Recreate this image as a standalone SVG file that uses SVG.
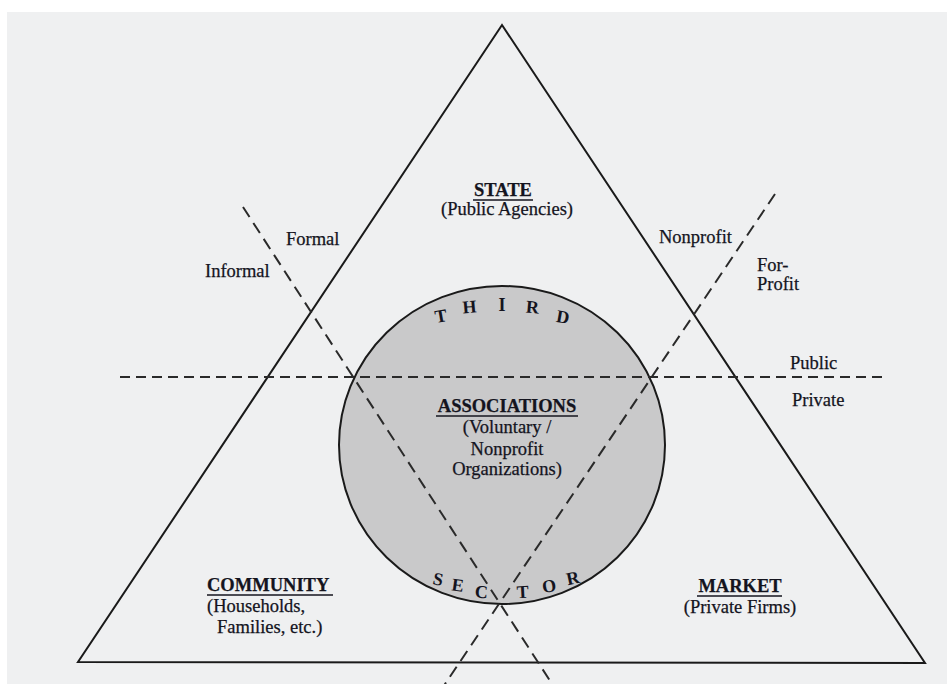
<svg xmlns="http://www.w3.org/2000/svg" width="947" height="684" viewBox="0 0 947 684">
<defs>
<style>
.t{font-family:"Liberation Serif","Times New Roman",serif;font-size:18.5px;fill:#14141e;stroke:#14141e;stroke-width:0.25}
.b{font-weight:bold}
.m{text-anchor:middle}
.l{font-family:"Liberation Serif","Times New Roman",serif;font-size:18px;font-weight:bold;fill:#14141e;text-anchor:middle}
.ul{stroke:#14141e;stroke-width:1.6}
.solid{fill:none;stroke:#1a1a1a;stroke-width:2;stroke-linejoin:miter}
.dash{fill:none;stroke:#2a2a2a;stroke-width:2}
.h{stroke-dasharray:10 6}
.d{stroke-dasharray:12 7}
</style>
</defs>
<rect x="0" y="0" width="947" height="684" fill="#ffffff"/>
<rect x="7" y="12" width="940" height="672" fill="#eff0f1"/>
<!-- triangle -->
<polygon class="solid" points="502,25 925,663 78,662"/>
<!-- third sector circle -->
<g id="associations">
<ellipse cx="502" cy="445" rx="163" ry="159" fill="#c9c9ca" stroke="#1a1a1a" stroke-width="2"/>
<text class="t b m" x="507" y="412">ASSOCIATIONS</text>
<line class="ul" x1="436" y1="416" x2="578" y2="416"/>
<text class="t m" x="507" y="433">(Voluntary /</text>
<text class="t m" x="507" y="455">Nonprofit</text>
<text class="t m" x="507" y="475">Organizations)</text>
</g>
<g id="third-sector-label">
<text class="l" transform="translate(442,322) rotate(-10)">T</text>
<text class="l" transform="translate(470,313) rotate(-5)">H</text>
<text class="l" transform="translate(502,311)">I</text>
<text class="l" transform="translate(532,313) rotate(5)">R</text>
<text class="l" transform="translate(562,323) rotate(10)">D</text>
<text class="l" transform="translate(437,585) rotate(12)">S</text>
<text class="l" transform="translate(457,591) rotate(8)">E</text>
<text class="l" transform="translate(481,598) rotate(4)">C</text>
<text class="l" transform="translate(523,598) rotate(-3)">T</text>
<text class="l" transform="translate(550,592) rotate(-8)">O</text>
<text class="l" transform="translate(574,584) rotate(-12)">R</text>
</g>
<!-- connectors: dividing dashed lines -->
<g id="connectors">
<line class="dash h" x1="120" y1="377" x2="888" y2="377"/>
<line class="dash d" x1="243" y1="207" x2="556" y2="690"/>
<line class="dash d" x1="775" y1="194" x2="441" y2="690"/>
</g>
<g id="state">
<text class="t b m" x="503" y="196">STATE</text>
<line class="ul" x1="473" y1="200" x2="533" y2="200"/>
<text class="t m" x="507" y="215">(Public Agencies)</text>
</g>
<g id="community">
<text class="t b" x="207" y="591">COMMUNITY</text>
<line class="ul" x1="207" y1="595" x2="333" y2="595"/>
<text class="t" x="207" y="612">(Households,</text>
<text class="t" x="217" y="633">Families, etc.)</text>
</g>
<g id="market">
<text class="t b m" x="740" y="592">MARKET</text>
<line class="ul" x1="697" y1="596" x2="782" y2="596"/>
<text class="t m" x="740" y="613">(Private Firms)</text>
</g>
<g id="labels">
<text class="t" x="286" y="245">Formal</text>
<text class="t" x="205" y="277">Informal</text>
<text class="t" x="659" y="243">Nonprofit</text>
<text class="t" x="757" y="271">For-</text>
<text class="t" x="757" y="290">Profit</text>
<text class="t" x="790" y="369">Public</text>
<text class="t" x="792" y="406">Private</text>
</g>
</svg>
